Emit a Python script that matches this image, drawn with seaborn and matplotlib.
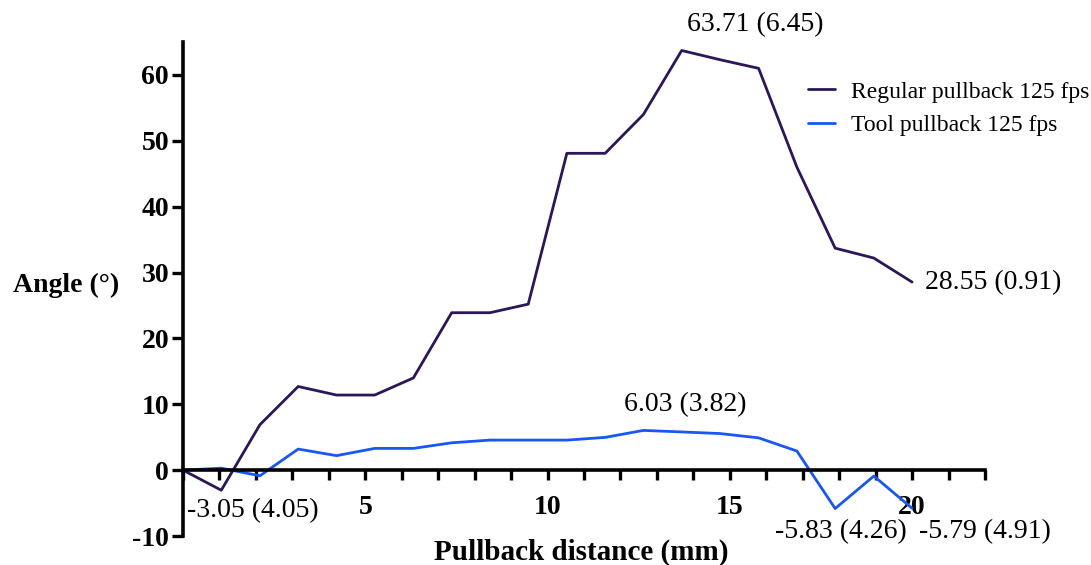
import matplotlib
matplotlib.use("Agg")
import matplotlib.pyplot as plt
import seaborn as sns
import pandas as pd
import numpy as np

# Data
distance_mm = [0.00, 1.05, 2.11, 3.16, 4.21, 5.26, 6.32, 7.37, 8.42, 9.47,
               10.53, 11.58, 12.63, 13.68, 14.74, 15.79, 16.84, 17.89, 18.95, 20.00]
regular_125 = [0, -3.05, 6.9, 12.7, 11.4, 11.4, 14.0, 23.9, 23.9, 25.2,
               48.1, 48.1, 54.0, 63.71, 62.3, 61.0, 46.0, 33.7, 32.2, 28.55]
tool_125 = [0, 0.3, -0.86, 3.2, 2.2, 3.3, 3.3, 4.15, 4.56, 4.56,
            4.56, 4.97, 6.03, 5.8, 5.55, 4.9, 2.9, -5.83, -0.9, -5.79]
series_names = ["Regular pullback 125 fps", "Tool pullback 125 fps"]
series_colors = ["#2b1757", "#1a57f0"]
x_ticks = list(range(0, 23))
x_ticklabels = ["" if t not in (5, 10, 15, 20) else str(t) for t in x_ticks]
y_ticks = [-10, 0, 10, 20, 30, 40, 50, 60]
annotations = [
    ("63.71 (6.45)", 15.7, 67.6, "center"),
    ("28.55 (0.91)", 20.36, 28.4, "left"),
    ("6.03 (3.82)", 13.77, 9.9, "center"),
    ("-3.05 (4.05)", 0.11, -6.2, "left"),
    ("-5.83 (4.26)", 18.04, -9.3, "center"),
    ("-5.79 (4.91)", 22.0, -9.3, "center"),
]

df = pd.DataFrame({
    "Pullback distance (mm)": distance_mm * 2,
    "Angle": regular_125 + tool_125,
    "Series": [series_names[0]] * len(distance_mm) + [series_names[1]] * len(distance_mm),
})

sns.set_style("ticks")
plt.rcParams["font.family"] = ["Liberation Serif", "DejaVu Serif"]
plt.rcParams["axes.unicode_minus"] = False
plt.rcParams["text.color"] = "black"
plt.rcParams["axes.labelcolor"] = "black"

fig = plt.figure(figsize=(10.91, 5.65), dpi=100)
ax = fig.add_axes([183 / 1091, 1 - 536 / 565, (985 - 183) / 1091, (536 - 42) / 565])

sns.lineplot(data=df, x="Pullback distance (mm)", y="Angle", hue="Series",
             palette=dict(zip(series_names, series_colors)), linewidth=2.0, ax=ax)

ax.set_xlim(0, 22)
ax.set_ylim(-10, 65)
ax.spines["top"].set_visible(False)
ax.spines["right"].set_visible(False)
ax.spines["bottom"].set_position(("data", 0))
for s in ("left", "bottom"):
    ax.spines[s].set_linewidth(2.6)
    ax.spines[s].set_color("black")

ax.set_xticks(x_ticks)
ax.set_xticklabels(x_ticklabels)
ax.set_yticks(y_ticks)
ax.tick_params(axis="x", direction="out", length=7, width=2.4, pad=11,
               labelsize=20, colors="black")
ax.tick_params(axis="y", direction="out", length=8, width=2.4, pad=2,
               labelsize=20, colors="black")
for lab in ax.get_xticklabels() + ax.get_yticklabels():
    lab.set_fontweight("bold")

ax.set_xlabel("Pullback distance (mm)", fontsize=21, fontweight="bold")
ax.xaxis.set_label_coords(0.497, -0.005)
ax.set_ylabel("Angle (°)", fontsize=20, fontweight="bold", rotation=0,
              va="center", ha="center")
ax.yaxis.set_label_coords(-0.146, 0.508)

for text, x, y, ha in annotations:
    ax.text(x, y, text, ha=ha, va="center", fontsize=20, clip_on=False)

leg = ax.legend(loc="upper left", bbox_to_anchor=(0.753, 0.9636), frameon=False,
                fontsize=17, handlelength=1.15, handletextpad=0.65, labelspacing=0.5)
for h in leg.get_lines():
    h.set_linewidth(2.0)

fig.savefig("out.png", dpi=100)
